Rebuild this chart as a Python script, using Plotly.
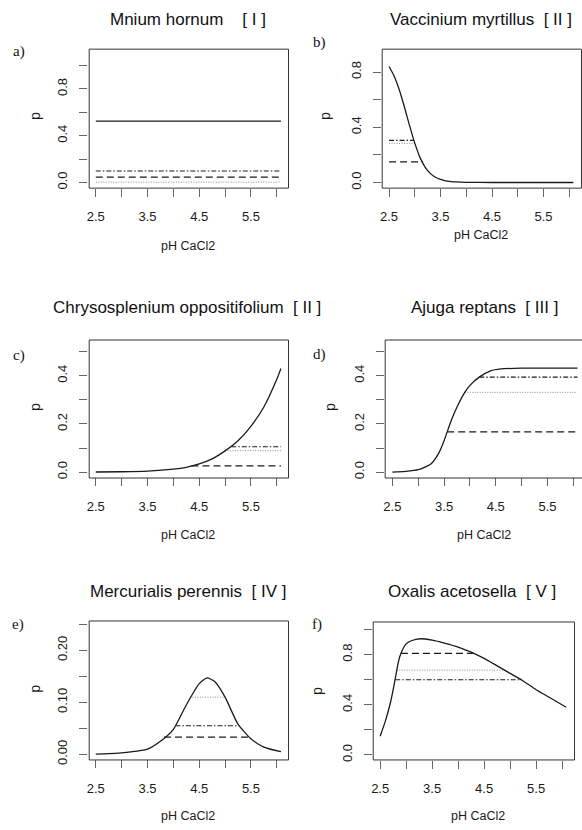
import plotly.graph_objects as go

W, H = 582, 830

# ---------------- data ----------------
titles = ["Mnium hornum\u00a0\u00a0\u00a0\u00a0[ I ]",
          "Vaccinium myrtillus\u00a0\u00a0[ II ]",
          "Chrysosplenium oppositifolium\u00a0\u00a0[ II ]",
          "Ajuga reptans\u00a0\u00a0[ III ]",
          "Mercurialis perennis\u00a0\u00a0[ IV ]",
          "Oxalis acetosella\u00a0\u00a0[ V ]"]
letters = ["a)", "b)", "c)", "d)", "e)", "f)"]
x_title = "pH CaCl2"
y_title = "p"

x_ticks = [2.5, 3.0, 3.5, 4.0, 4.5, 5.0, 5.5, 6.0]
x_ticktext = ["2.5", "", "3.5", "", "4.5", "", "5.5", ""]

# curves (pH, p)
ph_a = [2.5, 6.08]
p_a = [0.525, 0.525]

ph_b = [2.5, 2.6, 2.7, 2.8, 2.9, 3.0, 3.1, 3.2, 3.3, 3.4, 3.5, 3.6, 3.7, 3.8, 4.0, 4.5, 5.0, 5.5, 6.08]
p_b = [0.84, 0.77, 0.67, 0.545, 0.41, 0.285, 0.182, 0.112, 0.066, 0.038, 0.022, 0.012, 0.007, 0.004, 0.0012, 0.0002, 0.0, 0.0, 0.0]

ph_c = [2.5, 3.0, 3.5, 4.0, 4.25, 4.5, 4.75, 5.0, 5.25, 5.5, 5.75, 6.0, 6.08]
p_c = [0.0005, 0.0015, 0.004, 0.012, 0.02, 0.034, 0.055, 0.088, 0.13, 0.19, 0.27, 0.385, 0.43]

ph_d = [2.5, 2.75, 3.0, 3.25, 3.4, 3.5, 3.56, 3.65, 3.75, 3.9, 4.0, 4.18, 4.4, 4.6, 5.0, 6.08]
p_d = [0.0, 0.003, 0.010, 0.035, 0.08, 0.13, 0.167, 0.22, 0.27, 0.331, 0.36, 0.394, 0.42, 0.428, 0.431, 0.431]

ph_e = [2.5, 2.75, 3.0, 3.25, 3.5, 3.75, 4.0, 4.25, 4.5, 4.65, 4.8, 5.0, 5.25, 5.5, 5.75, 6.08]
p_e = [0.0005, 0.0012, 0.0028, 0.0055, 0.010, 0.025, 0.048, 0.095, 0.136, 0.147, 0.14, 0.11, 0.058, 0.030, 0.014, 0.005]

ph_f = [2.5, 2.6, 2.7, 2.75, 2.8, 2.85, 2.9, 3.0, 3.1, 3.27, 3.5, 3.75, 4.0, 4.3, 4.5, 4.75, 5.0, 5.25, 5.5, 5.75, 6.08]
p_f = [0.15, 0.27, 0.42, 0.52, 0.63, 0.74, 0.81, 0.885, 0.91, 0.926, 0.915, 0.89, 0.86, 0.81, 0.77, 0.71, 0.65, 0.59, 0.52, 0.46, 0.38]

curves_ph = [ph_a, ph_b, ph_c, ph_d, ph_e, ph_f]
curves_p = [p_a, p_b, p_c, p_d, p_e, p_f]

# threshold lines: level and pH extent
dashed_level = [0.046, 0.15, 0.026, 0.167, 0.033, 0.81]
dashed_from = [2.5, 2.5, 4.35, 3.56, 3.82, 2.9]
dashed_to = [6.08, 3.16, 6.08, 6.08, 5.47, 4.3]

dotted_level = [0.003, 0.284, 0.089, 0.331, 0.11, 0.676]
dotted_from = [2.5, 2.5, 5.0, 3.9, 4.32, 2.82]
dotted_to = [6.08, 3.0, 6.08, 6.08, 5.0, 4.9]

dashdot_level = [0.098, 0.305, 0.105, 0.394, 0.055, 0.6]
dashdot_from = [2.5, 2.5, 5.12, 4.18, 4.04, 2.79]
dashdot_to = [6.08, 2.98, 6.08, 6.08, 5.27, 5.21]

y_ticks = [[0, 0.2, 0.4, 0.6, 0.8, 1.0],
           [0, 0.2, 0.4, 0.6, 0.8],
           [0, 0.1, 0.2, 0.3, 0.4, 0.5],
           [0, 0.1, 0.2, 0.3, 0.4, 0.5],
           [0, 0.05, 0.10, 0.15, 0.20, 0.25],
           [0, 0.2, 0.4, 0.6, 0.8, 1.0]]
y_ticktext = [["0.0", "", "0.4", "", "0.8", ""],
              ["0.0", "", "0.4", "", "0.8"],
              ["0.0", "", "0.2", "", "0.4", ""],
              ["0.0", "", "0.2", "", "0.4", ""],
              ["0.00", "", "0.10", "", "0.20", ""],
              ["0.0", "", "0.4", "", "0.8", ""]]

# ---------------- layout (pixel boxes) ----------------
# (left, right, top, bottom) in pixels
boxes = [(86.7, 287.3, 49.0, 189.0),
         (381.0, 580.7, 49.3, 189.0),
         (86.7, 287.3, 341.7, 480.7),
         (384.3, 584.9, 341.7, 480.7),
         (86.7, 287.3, 625.3, 765.0),
         (372.0, 573.7, 625.7, 765.3)]
y_ranges = [[-0.044, 1.144], [-0.037, 0.967], [-0.0212, 0.5512],
            [-0.0212, 0.5512], [-0.0099, 0.257], [-0.038, 1.066]]
x_range = [2.357, 6.223]

title_pos = [(187, 20), (481, 20), (186, 310), (484, 310), (187, 596), (472, 596)]
letter_pos = [(17, 52), (319, 43), (17, 358), (319, 357), (16, 629), (316, 629)]
xlab_pos = [(187, 248), (481, 237), (187, 539), (484, 539), (187, 822), (478, 822)]
ylab_pos = [(33, 117), (324, 117), (33, 410), (329, 410), (33, 694), (316, 696)]

INK = "#1a1a1a"
BOX = "#333333"
FONT = "Liberation Sans, Arial, sans-serif"


def px(x):
    return x / W


def py(y):
    return 1 - y / H


fig = go.Figure()
layout = dict(width=W, height=H, margin=dict(l=0, r=0, t=0, b=0),
              paper_bgcolor="white", plot_bgcolor="rgba(0,0,0,0)", showlegend=False,
              font=dict(family=FONT, color=INK))
annotations = []
shapes = []

for i in range(6):
    sfx = "" if i == 0 else str(i + 1)
    xa, ya = "x" + sfx, "y" + sfx
    L, R, T, B = boxes[i]
    clipped = px(R) > 1.0
    xdom = [px(L), min(1.0, px(R))]
    xr = list(x_range)
    if clipped:
        xr[1] = x_range[0] + (x_range[1] - x_range[0]) * (W - L) / (R - L)
    layout["xaxis" + sfx] = dict(domain=xdom, range=xr, anchor=ya, showgrid=False, zeroline=False,
                                 showline=False, ticks="outside", ticklen=8, tickwidth=1,
                                 tickcolor="#666", tickvals=x_ticks, ticktext=x_ticktext,
                                 tickfont=dict(size=13, family=FONT, color=INK),
                                 ticklabelstandoff=9, fixedrange=True)
    layout["yaxis" + sfx] = dict(domain=[py(B), py(T)], range=y_ranges[i], anchor=xa, showgrid=False,
                                 zeroline=False, showline=False,
                                 ticks="outside", ticklen=8,
                                 tickwidth=1, tickcolor="#666", tickvals=y_ticks[i],
                                 ticktext=y_ticktext[i], tickangle=-90,
                                 tickfont=dict(size=13, family=FONT, color=INK),
                                 ticklabelstandoff=7, fixedrange=True)
    # frame of the panel, drawn as four separate paper lines
    xl, xrr = px(round(L) + 0.5), px(min(round(R), W + 2) + 0.5)
    yt, yb = py(round(T) + 0.5), py(round(B) + 0.5)
    frame = dict(color=BOX, width=1)
    shapes.append(dict(type="line", xref="paper", yref="paper", x0=xl, x1=xrr, y0=yt, y1=yt, line=frame, layer="above"))
    shapes.append(dict(type="line", xref="paper", yref="paper", x0=xl, x1=xrr, y0=yb, y1=yb, line=frame, layer="above"))
    shapes.append(dict(type="line", xref="paper", yref="paper", x0=xl, x1=xl, y0=yb, y1=yt, line=frame, layer="above"))
    if not clipped:
        shapes.append(dict(type="line", xref="paper", yref="paper", x0=xrr, x1=xrr, y0=yb, y1=yt, line=frame, layer="above"))

    # threshold lines
    fig.add_trace(go.Scatter(x=[dotted_from[i], dotted_to[i]], y=[dotted_level[i]] * 2, mode="lines",
                             xaxis=xa, yaxis=ya, line=dict(color="#8a8a8a", width=1, dash="1px,1.5px"),
                             hoverinfo="skip"))
    fig.add_trace(go.Scatter(x=[dashed_from[i], dashed_to[i]], y=[dashed_level[i]] * 2, mode="lines",
                             xaxis=xa, yaxis=ya, line=dict(color=INK, width=1.2, dash="7px,4px"),
                             hoverinfo="skip"))
    fig.add_trace(go.Scatter(x=[dashdot_from[i], dashdot_to[i]], y=[dashdot_level[i]] * 2, mode="lines",
                             xaxis=xa, yaxis=ya, line=dict(color=INK, width=1.1, dash="5px,2px,1.5px,2px"),
                             hoverinfo="skip"))
    # fitted curve
    fig.add_trace(go.Scatter(x=curves_ph[i], y=curves_p[i], mode="lines", xaxis=xa, yaxis=ya,
                             line=dict(color=INK, width=1.3, shape="spline", smoothing=0.6),
                             hoverinfo="skip"))

    tx, ty = title_pos[i]
    annotations.append(dict(x=px(tx), y=py(ty), xref="paper", yref="paper", text=titles[i],
                            showarrow=False, xanchor="center", yanchor="middle",
                            font=dict(size=17, family=FONT, color="#111")))
    lx, ly = letter_pos[i]
    annotations.append(dict(x=px(lx), y=py(ly), xref="paper", yref="paper", text=letters[i],
                            showarrow=False, xanchor="center", yanchor="middle",
                            font=dict(size=15, family="Liberation Serif, Times New Roman, serif", color="#111")))
    xx, xy = xlab_pos[i]
    annotations.append(dict(x=px(xx), y=py(xy), xref="paper", yref="paper", text=x_title,
                            showarrow=False, xanchor="center", yanchor="middle",
                            font=dict(size=12.5, family=FONT, color=INK)))
    yx, yy = ylab_pos[i]
    annotations.append(dict(x=px(yx), y=py(yy), xref="paper", yref="paper", text=y_title,
                            showarrow=False, xanchor="center", yanchor="middle", textangle=-90,
                            font=dict(size=14, family=FONT, color=INK)))

layout["annotations"] = annotations
layout["shapes"] = shapes
fig.update_layout(**layout)
fig.write_html("out.html", config={"displayModeBar": False},
               post_script="document.body.style.margin='0';document.body.style.overflow='hidden';")
